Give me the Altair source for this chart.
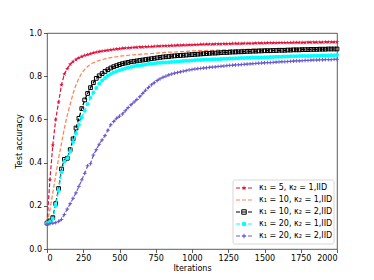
import altair as alt
import pandas as pd

iterations = list(range(0, 2001, 20))

acc_k5_1 = [
    0.12, 0.32, 0.48, 0.60, 0.68, 0.76, 0.81, 0.835, 0.855, 0.868,
    0.877, 0.885, 0.891, 0.896, 0.900, 0.904, 0.908, 0.911, 0.914, 0.916,
    0.918, 0.920, 0.922, 0.924, 0.926, 0.927, 0.929, 0.930, 0.931, 0.932,
    0.933, 0.934, 0.935, 0.935, 0.936, 0.937, 0.937, 0.938, 0.939, 0.939,
    0.940, 0.941, 0.941, 0.942, 0.942, 0.943, 0.943, 0.944, 0.944, 0.945,
    0.945, 0.946, 0.946, 0.947, 0.947, 0.948, 0.948, 0.948, 0.949, 0.949,
    0.949, 0.950, 0.950, 0.950, 0.951, 0.951, 0.951, 0.951, 0.952, 0.952,
    0.952, 0.952, 0.953, 0.953, 0.953, 0.953, 0.954, 0.954, 0.954, 0.954,
    0.955, 0.955, 0.955, 0.955, 0.955, 0.956, 0.956, 0.956, 0.956, 0.956,
    0.957, 0.957, 0.957, 0.957, 0.957, 0.957, 0.958, 0.958, 0.958, 0.958,
    0.958,
]
acc_k10_1 = [
    0.12, 0.18, 0.26, 0.34, 0.42, 0.49, 0.56, 0.62, 0.67, 0.72,
    0.76, 0.79, 0.815, 0.832, 0.845, 0.855, 0.862, 0.868, 0.873, 0.877,
    0.880, 0.883, 0.886, 0.888, 0.890, 0.892, 0.894, 0.895, 0.897, 0.898,
    0.899, 0.900, 0.901, 0.902, 0.903, 0.904, 0.905, 0.906, 0.907, 0.908,
    0.909, 0.910, 0.911, 0.911, 0.912, 0.913, 0.914, 0.914, 0.915, 0.916,
    0.917, 0.917, 0.918, 0.918, 0.919, 0.919, 0.920, 0.920, 0.920, 0.921,
    0.921, 0.922, 0.922, 0.922, 0.923, 0.923, 0.923, 0.924, 0.924, 0.924,
    0.925, 0.925, 0.925, 0.926, 0.926, 0.926, 0.926, 0.927, 0.927, 0.927,
    0.927, 0.928, 0.928, 0.928, 0.928, 0.929, 0.929, 0.929, 0.929, 0.929,
    0.930, 0.930, 0.930, 0.930, 0.930, 0.931, 0.931, 0.931, 0.931, 0.931,
    0.931,
]
acc_k10_2 = [
    0.12, 0.13, 0.145, 0.21, 0.28, 0.37, 0.415, 0.42, 0.46, 0.51,
    0.56, 0.605, 0.65, 0.69, 0.72, 0.747, 0.77, 0.79, 0.802, 0.812,
    0.822, 0.830, 0.838, 0.844, 0.849, 0.854, 0.858, 0.861, 0.864, 0.867,
    0.869, 0.871, 0.873, 0.875, 0.877, 0.879, 0.881, 0.883, 0.885, 0.887,
    0.889, 0.890, 0.891, 0.893, 0.894, 0.895, 0.896, 0.897, 0.898, 0.899,
    0.900, 0.901, 0.902, 0.903, 0.904, 0.905, 0.906, 0.907, 0.907, 0.908,
    0.909, 0.910, 0.910, 0.911, 0.912, 0.912, 0.913, 0.913, 0.914, 0.915,
    0.915, 0.916, 0.916, 0.917, 0.917, 0.918, 0.918, 0.918, 0.919, 0.919,
    0.920, 0.920, 0.920, 0.921, 0.921, 0.922, 0.922, 0.922, 0.923, 0.923,
    0.923, 0.924, 0.924, 0.924, 0.925, 0.925, 0.925, 0.926, 0.926, 0.926,
    0.926,
]
acc_k20_1 = [
    0.12, 0.125, 0.14, 0.20, 0.27, 0.355, 0.405, 0.42, 0.45, 0.495,
    0.535, 0.575, 0.61, 0.64, 0.67, 0.70, 0.725, 0.745, 0.765, 0.78,
    0.792, 0.802, 0.810, 0.817, 0.823, 0.828, 0.832, 0.836, 0.840, 0.843,
    0.846, 0.848, 0.850, 0.852, 0.854, 0.856, 0.858, 0.859, 0.861, 0.862,
    0.863, 0.864, 0.865, 0.866, 0.867, 0.868, 0.869, 0.870, 0.871, 0.872,
    0.873, 0.874, 0.875, 0.875, 0.876, 0.877, 0.877, 0.878, 0.879, 0.879,
    0.880, 0.881, 0.881, 0.882, 0.882, 0.883, 0.883, 0.884, 0.884, 0.885,
    0.885, 0.886, 0.886, 0.887, 0.887, 0.888, 0.888, 0.889, 0.889, 0.890,
    0.890, 0.890, 0.891, 0.891, 0.892, 0.892, 0.892, 0.893, 0.893, 0.894,
    0.894, 0.894, 0.895, 0.895, 0.895, 0.896, 0.896, 0.896, 0.897, 0.897,
    0.898,
]
acc_k20_2 = [
    0.115, 0.117, 0.119, 0.122, 0.128, 0.137, 0.16, 0.185, 0.21, 0.235,
    0.26, 0.29, 0.32, 0.35, 0.385, 0.395, 0.435, 0.46, 0.485, 0.505,
    0.525, 0.55, 0.575, 0.59, 0.605, 0.615, 0.625, 0.64, 0.655, 0.668,
    0.68, 0.692, 0.705, 0.72, 0.735, 0.748, 0.76, 0.77, 0.78, 0.788,
    0.795, 0.80, 0.806, 0.81, 0.814, 0.817, 0.82, 0.823, 0.826, 0.829,
    0.831, 0.833, 0.835, 0.836, 0.838, 0.839, 0.841, 0.842, 0.843, 0.845,
    0.846, 0.847, 0.849, 0.850, 0.851, 0.852, 0.853, 0.854, 0.855, 0.856,
    0.857, 0.858, 0.859, 0.860, 0.861, 0.862, 0.863, 0.863, 0.864, 0.865,
    0.866, 0.867, 0.867, 0.868, 0.869, 0.870, 0.871, 0.871, 0.872, 0.873,
    0.873, 0.874, 0.875, 0.875, 0.876, 0.876, 0.877, 0.877, 0.877, 0.878,
    0.878,
]

labels = [
    "κ₁ = 5, κ₂ = 1,IID",
    "κ₁ = 10, κ₂ = 1,IID",
    "κ₁ = 10, κ₂ = 2,IID",
    "κ₁ = 20, κ₂ = 1,IID",
    "κ₁ = 20, κ₂ = 2,IID",
]
series_values = [acc_k5_1, acc_k10_1, acc_k10_2, acc_k20_1, acc_k20_2]
colors = ["#DC143C", "#FF7F50", "#000000", "#00FFFF", "#6A5ACD"]

STAR = ("M0,-1L0.223,-0.307L0.951,-0.309L0.361,0.117L0.588,0.809L0,0.38"
        "L-0.588,0.809L-0.361,0.117L-0.951,-0.309L-0.223,-0.307Z")
PLUS = "M-1,0L1,0M0,-1L0,1"
markers = [
    (STAR, True, 22, 0),
    None,
    ("square", False, 14, 1.0),
    ("circle", True, 16, 0),
    (PLUS, False, 14, 1.0),
]

x_scale = alt.Scale(domain=[0, 2000], nice=False)
y_scale = alt.Scale(domain=[0, 1], nice=False)
x_enc = alt.X("it:Q", scale=x_scale,
              axis=alt.Axis(values=[0, 250, 500, 750, 1000, 1250, 1500, 1750, 2000],
                            title="Iterations", format="d"))
y_enc = alt.Y("acc:Q", scale=y_scale,
              axis=alt.Axis(values=[0, 0.2, 0.4, 0.6, 0.8, 1.0],
                            title="Test accuracy", format=".1f"))

layers = []
for lab, vals, col, mk in zip(labels, series_values, colors, markers):
    df = pd.DataFrame({"it": iterations, "acc": vals, "series": lab})
    base = alt.Chart(df).encode(x=x_enc, y=y_enc)
    layers.append(base.mark_line(color=col, strokeWidth=1.2, strokeDash=[4, 2]))
    if mk is not None:
        shape, filled, size, sw = mk
        if filled:
            layers.append(base.mark_point(shape=shape, filled=True, color=col,
                                          size=size, opacity=1, strokeWidth=0))
        else:
            layers.append(base.mark_point(shape=shape, filled=False, color=col,
                                          size=size, opacity=1, strokeWidth=sw))

# legend (layout positions in pixels inside the plot area)
leg_y = [155, 167, 179, 191, 203]
layers.append(
    alt.Chart(pd.DataFrame({"a": [0]})).mark_rect(
        fill="white", fillOpacity=0.8, stroke="#cccccc", strokeWidth=0.8, cornerRadius=2
    ).encode(x=alt.value(186), x2=alt.value(287), y=alt.value(147), y2=alt.value(211))
)
for lab, col, mk, yy in zip(labels, colors, markers, leg_y):
    one = alt.Chart(pd.DataFrame({"label": [lab]}))
    layers.append(one.mark_rule(color=col, strokeWidth=1.2, strokeDash=[4, 2]).encode(
        x=alt.value(189), x2=alt.value(205), y=alt.value(yy)))
    if mk is not None:
        shape, filled, size, sw = mk
        layers.append(one.mark_point(shape=shape, filled=filled, color=col, size=size + 6,
                                     opacity=1, strokeWidth=(0 if filled else sw)).encode(
            x=alt.value(197), y=alt.value(yy)))
    layers.append(one.mark_text(align="left", baseline="middle", fontSize=8,
                                font="DejaVu Sans", color="black").encode(
        x=alt.value(212), y=alt.value(yy), text="label:N"))

chart = alt.layer(*layers).properties(
    width=290, height=216,
    autosize=alt.AutoSizeParams(type="none"),
    padding={"left": 39, "top": 25, "right": 29, "bottom": 28},
).configure_view(
    stroke="#333333", strokeWidth=0.8
).configure_axis(
    grid=False, domain=False, tickColor="#333333", tickSize=3.5, tickWidth=0.8,
    labelFont="DejaVu Sans", labelFontSize=8, labelColor="black",
    titleFont="DejaVu Sans", titleFontSize=8, titleColor="black", titleFontWeight="normal",
    labelPadding=2,
).configure_axisX(titlePadding=2).configure_axisY(titlePadding=5)

chart.save("out.html", embed_options={"renderer": "svg", "actions": False})
